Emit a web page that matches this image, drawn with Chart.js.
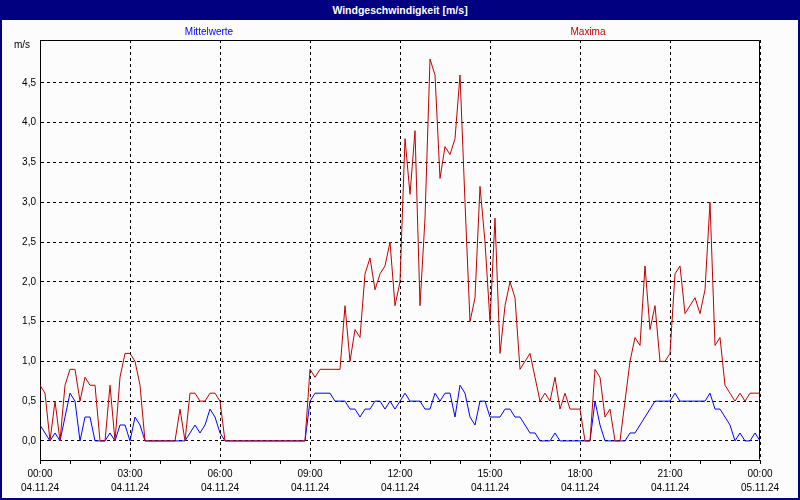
<!DOCTYPE html>
<html>
<head>
<meta charset="utf-8">
<title>Windgeschwindigkeit</title>
<script src="https://cdn.jsdelivr.net/npm/chart.js@4.4.1/dist/chart.umd.min.js"></script>
<style>
    body { margin: 0; background: #fcfcfc; }
    #frame {
        position: relative;
        width: 800px;
        height: 500px;
        background: #fcfcfc;
        overflow: hidden;
        font-family: "Liberation Sans", Arial, sans-serif;
    }
    #chart { position: absolute; left: 0; top: 0; }
    #titlebar {
        position: absolute; left: 0; top: 0; width: 800px; height: 20px;
        background: #000080; color: #fff;
        font-weight: bold; font-size: 10.5px; line-height: 20px; text-align: center;
    }
    #border {
        position: absolute; left: 0; top: 0; width: 800px; height: 500px;
        box-sizing: border-box; border: 2px solid #000080; pointer-events: none;
    }
    .lbl { position: absolute; font-size: 10px; transform: translate(-50%, -50%); white-space: nowrap; }
    #unit { position: absolute; left: 14px; top: 39px; font-size: 10px; color: #000; }
</style>
</head>
<body>
<div id="frame">
    <canvas id="chart" width="800" height="500"></canvas>
    <div id="titlebar">Windgeschwindigkeit [m/s]</div>
    <div class="lbl" style="left:209px; top:31px; color:#0000ff;">Mittelwerte</div>
    <div class="lbl" style="left:588px; top:31px; color:#c00000;">Maxima</div>
    <div id="unit">m/s</div>
    <div id="border"></div>
</div>
<script>
// Messwerte im 10-Minuten-Raster, 04.11.24 00:00 bis 05.11.24 00:00
const mittelwerte = [
    0.2, 0.1, 0.0, 0.1, 0.0, 0.3, 0.6, 0.5, 0.0, 0.3, 0.3, 0.0,
    0.0, 0.0, 0.1, 0.0, 0.2, 0.2, 0.0, 0.3, 0.2, 0.0, 0.0, 0.0,
    0.0, 0.0, 0.0, 0.0, 0.0, 0.0, 0.1, 0.2, 0.1, 0.2, 0.4, 0.3,
    0.1, 0.0, 0.0, 0.0, 0.0, 0.0, 0.0, 0.0, 0.0, 0.0, 0.0, 0.0,
    0.0, 0.0, 0.0, 0.0, 0.0, 0.0, 0.5, 0.6, 0.6, 0.6, 0.6, 0.5,
    0.5, 0.5, 0.4, 0.4, 0.3, 0.4, 0.4, 0.5, 0.5, 0.4, 0.5, 0.4,
    0.5, 0.6, 0.5, 0.5, 0.5, 0.4, 0.4, 0.6, 0.5, 0.6, 0.6, 0.3,
    0.7, 0.6, 0.3, 0.2, 0.5, 0.5, 0.3, 0.3, 0.3, 0.4, 0.4, 0.3,
    0.3, 0.2, 0.1, 0.1, 0.0, 0.0, 0.0, 0.1, 0.0, 0.0, 0.0, 0.0,
    0.0, 0.0, 0.0, 0.5, 0.2, 0.0, 0.0, 0.0, 0.0, 0.0, 0.1, 0.1,
    0.2, 0.3, 0.4, 0.5, 0.5, 0.5, 0.5, 0.6, 0.5, 0.5, 0.5, 0.5,
    0.5, 0.5, 0.6, 0.4, 0.4, 0.3, 0.2, 0.0, 0.1, 0.0, 0.0, 0.1,
    0.0
];

const maxima = [
    0.7, 0.6, 0.0, 0.5, 0.0, 0.7, 0.9, 0.9, 0.5, 0.8, 0.7, 0.7,
    0.0, 0.0, 0.7, 0.0, 0.8, 1.1, 1.1, 1.0, 0.7, 0.0, 0.0, 0.0,
    0.0, 0.0, 0.0, 0.0, 0.4, 0.0, 0.6, 0.6, 0.5, 0.5, 0.6, 0.6,
    0.5, 0.0, 0.0, 0.0, 0.0, 0.0, 0.0, 0.0, 0.0, 0.0, 0.0, 0.0,
    0.0, 0.0, 0.0, 0.0, 0.0, 0.0, 0.9, 0.8, 0.9, 0.9, 0.9, 0.9,
    0.9, 1.7, 1.0, 1.4, 1.3, 2.1, 2.3, 1.9, 2.1, 2.2, 2.5, 1.7,
    2.0, 3.8, 3.1, 3.9, 1.7, 2.8, 4.8, 4.6, 3.3, 3.7, 3.6, 3.8,
    4.6, 3.0, 1.5, 1.8, 3.2, 2.5, 1.5, 2.8, 1.1, 1.7, 2.0, 1.8,
    0.9, 1.0, 1.1, 0.8, 0.5, 0.6, 0.5, 0.8, 0.4, 0.6, 0.4, 0.4,
    0.4, 0.0, 0.0, 0.9, 0.8, 0.3, 0.4, 0.0, 0.0, 0.5, 1.0, 1.3,
    1.2, 2.2, 1.4, 1.7, 1.0, 1.0, 1.1, 2.1, 2.2, 1.6, 1.7, 1.8,
    1.6, 1.9, 3.0, 1.2, 1.3, 0.7, 0.6, 0.5, 0.6, 0.5, 0.6, 0.6,
    0.6
];

const stepMinutes = 10;
const xTickTimes = ['00:00', '03:00', '06:00', '09:00', '12:00', '15:00', '18:00', '21:00', '00:00'];
const xTickDates = ['04.11.24', '04.11.24', '04.11.24', '04.11.24', '04.11.24', '04.11.24', '04.11.24', '04.11.24', '05.11.24'];
const yTicks = [0, 0.5, 1, 1.5, 2, 2.5, 3, 3.5, 4, 4.5];

const BLUE = '#0000ff';
const RED = '#c00000';
const FONT = '"Liberation Sans", Arial, sans-serif';

function toPoints(values) {
    return values.map((v, i) => ({ x: i * stepMinutes, y: v }));
}

// top and right edge of the plot frame
const frameBorder = {
    id: 'frameBorder',
    afterDraw(chart) {
        const ctx = chart.ctx;
        const a = chart.chartArea;
        const l = Math.round(a.left) + 0.5, r = Math.round(a.right) - 0.5;
        const t = Math.round(a.top) + 0.5, b = Math.round(a.bottom) - 0.5;
        ctx.save();
        ctx.strokeStyle = '#000';
        ctx.lineWidth = 1;
        ctx.beginPath();
        ctx.moveTo(l, t);
        ctx.lineTo(r, t);
        ctx.lineTo(r, b);
        ctx.stroke();
        ctx.restore();
    }
};

const hourTicks = [];
for (let m = 0; m <= 1440; m += 60) hourTicks.push(m);

new Chart(document.getElementById('chart'), {
    type: 'line',
    data: {
        datasets: [
            {
                label: 'Mittelwerte',
                data: toPoints(mittelwerte),
                borderColor: BLUE,
                borderWidth: 1,
                pointRadius: 0,
                tension: 0,
                order: 1
            },
            {
                label: 'Maxima',
                data: toPoints(maxima),
                borderColor: RED,
                borderWidth: 1,
                pointRadius: 0,
                tension: 0,
                order: 0
            }
        ]
    },
    options: {
        responsive: false,
        animation: false,
        layout: { padding: { left: 0, top: 40, right: 40, bottom: 0 } },
        plugins: {
            legend: { display: false },
            title: { display: false },
            tooltip: { enabled: false }
        },
        scales: {
            x: {
                type: 'linear',
                min: 0,
                max: 1440,
                afterBuildTicks: s => { s.ticks = hourTicks.map(v => ({ value: v })); },
                afterFit: s => { s.height = 40; },
                ticks: {
                    autoSkip: false,
                    maxRotation: 0,
                    padding: 3,
                    color: '#000',
                    font: { family: FONT, size: 10, lineHeight: 1.4 },
                    callback: v => {
                        if (v % 180 !== 0) return '';
                        const k = v / 180;
                        return [xTickTimes[k], xTickDates[k]];
                    }
                },
                grid: {
                    color: c => (c.tick && c.tick.value % 180 === 0) ? '#000' : 'rgba(0,0,0,0)',
                    tickColor: '#000',
                    tickLength: 4,
                    lineWidth: 1
                },
                border: { display: true, color: '#000', dash: [3, 3] }
            },
            y: {
                min: -0.24,
                max: 5.04,
                afterBuildTicks: s => { s.ticks = yTicks.map(v => ({ value: v })); },
                afterFit: s => { s.width = 40; },
                ticks: {
                    padding: 4,
                    color: '#000',
                    font: { family: FONT, size: 10 },
                    callback: v => v.toFixed(1).replace('.', ',')
                },
                grid: { color: '#000', drawTicks: false, lineWidth: 1 },
                border: { display: true, color: '#000', dash: [3, 3] }
            }
        }
    },
    plugins: [frameBorder]
});
</script>
</body>
</html>
